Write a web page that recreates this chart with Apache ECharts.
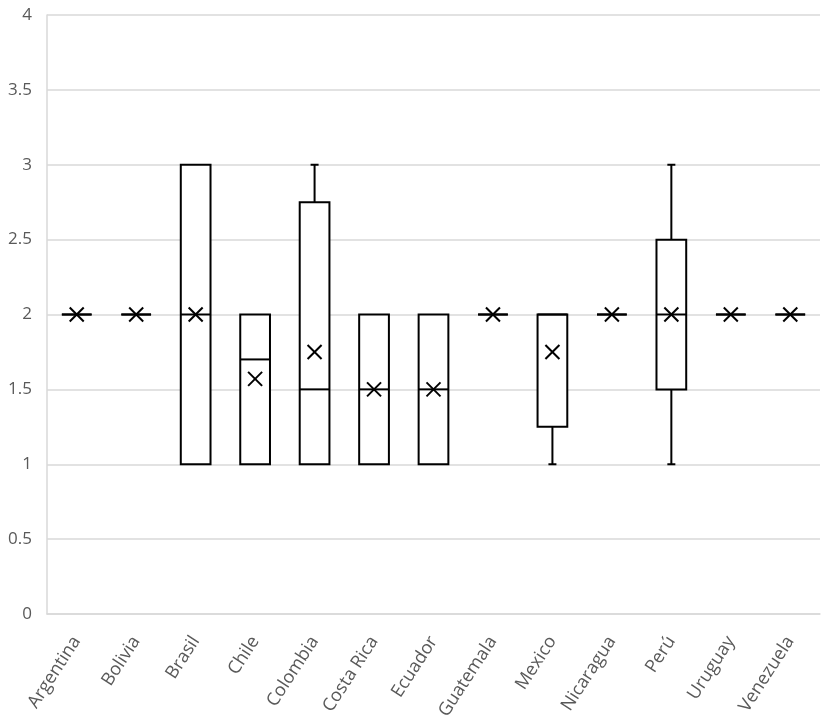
<!DOCTYPE html>
<html>
<head>
<meta charset="utf-8">
<script src="https://cdn.jsdelivr.net/npm/echarts@6/dist/echarts.min.js"></script>
<style>
  html, body { margin: 0; padding: 0; background: #fff; }
  #chart { width: 829px; height: 727px; }
</style>
</head>
<body>
<div id="chart"></div>
<script>
const categories = ["Argentina", "Bolivia", "Brasil", "Chile", "Colombia", "Costa Rica", "Ecuador",
    "Guatemala", "Mexico", "Nicaragua", "Perú", "Uruguay", "Venezuela"];
const minVals    = [2, 2, 1, 1,   1,    1,   1,   2, 1,    2, 1,   2, 2];
const q1Vals     = [2, 2, 1, 1,   1,    1,   1,   2, 1.25, 2, 1.5, 2, 2];
const medianVals = [2, 2, 2, 1.7, 1.5,  1.5, 1.5, 2, 2,    2, 2,   2, 2];
const q3Vals     = [2, 2, 3, 2,   2.75, 2,   2,   2, 2,    2, 2.5, 2, 2];
const maxVals    = [2, 2, 3, 2,   3,    2,   2,   2, 2,    2, 3,   2, 2];
const meanVals   = [2, 2, 2, 1.57, 1.75, 1.5, 1.5, 2, 1.75, 2, 2,  2, 2];
const yTicks = [0, 0.5, 1, 1.5, 2, 2.5, 3, 3.5, 4];

const chart = echarts.init(document.getElementById('chart'));

const boxData = categories.map((c, i) => [i, minVals[i], q1Vals[i], medianVals[i], q3Vals[i], maxVals[i], meanVals[i]]);

function renderBox(params, api) {
    const idx = api.value(0);
    const pMin = api.coord([idx, api.value(1)]);
    const pQ1 = api.coord([idx, api.value(2)]);
    const pMed = api.coord([idx, api.value(3)]);
    const pQ3 = api.coord([idx, api.value(4)]);
    const pMax = api.coord([idx, api.value(5)]);
    const pMean = api.coord([idx, api.value(6)]);
    const band = api.size([1, 0])[0];
    const hw = band * 0.25;
    const cap = 4;
    const x = pQ1[0];
    const stroke = { stroke: '#000', lineWidth: 2, fill: null };
    const kids = [];
    // whiskers
    if (pMax[1] < pQ3[1]) {
        kids.push({ type: 'line', shape: { x1: x, y1: pQ3[1], x2: x, y2: pMax[1] }, style: stroke });
        kids.push({ type: 'line', shape: { x1: x - cap, y1: pMax[1], x2: x + cap, y2: pMax[1] }, style: stroke });
    }
    if (pMin[1] > pQ1[1]) {
        kids.push({ type: 'line', shape: { x1: x, y1: pQ1[1], x2: x, y2: pMin[1] }, style: stroke });
        kids.push({ type: 'line', shape: { x1: x - cap, y1: pMin[1], x2: x + cap, y2: pMin[1] }, style: stroke });
    }
    // box
    kids.push({
        type: 'rect',
        shape: { x: x - hw, y: pQ3[1], width: hw * 2, height: pQ1[1] - pQ3[1] },
        style: { stroke: '#000', lineWidth: 2, fill: '#fff' }
    });
    // median
    kids.push({ type: 'line', shape: { x1: x - hw, y1: pMed[1], x2: x + hw, y2: pMed[1] }, style: stroke });
    // mean marker
    const m = 7;
    kids.push({ type: 'line', shape: { x1: pMean[0] - m, y1: pMean[1] - m, x2: pMean[0] + m, y2: pMean[1] + m }, style: stroke });
    kids.push({ type: 'line', shape: { x1: pMean[0] - m, y1: pMean[1] + m, x2: pMean[0] + m, y2: pMean[1] - m }, style: stroke });
    return { type: 'group', children: kids };
}

chart.setOption({
    animation: false,
    backgroundColor: '#fff',
    grid: { left: 47, right: 9, top: 15, bottom: 113 },
    xAxis: {
        type: 'category',
        data: categories,
        axisLine: { show: true, lineStyle: { color: '#d9d9d9', width: 1.5 } },
        axisTick: { show: false },
        axisLabel: {
            rotate: 57,
            interval: 0,
            margin: 24,
            color: '#595959',
            fontFamily: 'Open Sans',
            fontSize: 18
        },
        splitLine: { show: false }
    },
    yAxis: {
        type: 'value',
        min: 0,
        max: 4,
        interval: 0.5,
        axisLine: { show: true, lineStyle: { color: '#d9d9d9', width: 1.5 } },
        axisTick: { show: false },
        axisLabel: {
            color: '#595959',
            fontFamily: 'Open Sans',
            fontSize: 17,
            margin: 15,
            formatter: v => yTicks.includes(v) ? String(v) : ''
        },
        splitLine: { lineStyle: { color: '#d9d9d9', width: 1.5 } }
    },
    series: [{
        type: 'custom',
        renderItem: renderBox,
        encode: { x: 0, y: [1, 2, 3, 4, 5, 6] },
        data: boxData
    }]
});
</script>
</body>
</html>
